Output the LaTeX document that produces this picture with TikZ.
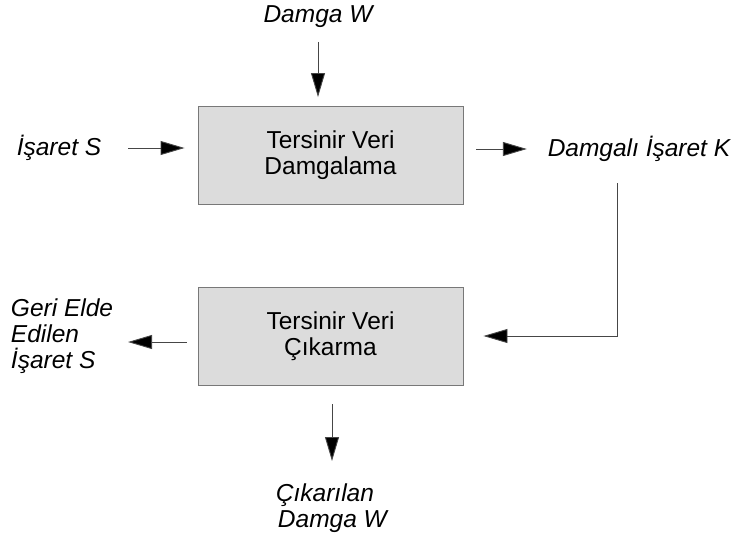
\documentclass[tikz,border=0pt]{standalone}
\usepackage{fontspec}
\setmainfont{Liberation Sans}
\usetikzlibrary{arrows.meta}
\tikzset{
  blok/.style={draw={rgb,255:red,120;green,120;blue,120},fill={rgb,255:red,220;green,220;blue,220},line width=0.9pt,minimum width=265pt,minimum height=98pt,align=center,font=\fontsize{24.5}{26}\selectfont},
  etiket/.style={align=left,inner sep=0.75pt,font=\fontsize{24.5}{26}\selectfont\itshape},
  ok/.style={draw={rgb,255:red,70;green,70;blue,70},line width=0.9pt,-{Triangle[length=24pt,width=14pt,fill=black]}}
}
\begin{document}
\begin{tikzpicture}[x=1pt,y=1pt,yscale=-1,xscale=1]
\useasboundingbox (0,0) rectangle (731,538);
% Boxes
\node[blok] (damgalama) at (330.5,155.5) {Tersinir Veri\\Damgalama};
\node[blok] (cikarma) at (330.5,336) {Tersinir Veri\\Çıkarma};
% Text Node
\node[etiket] (damgaW) at (318,17) {Damga W};
% Text Node
\node[etiket] (isaretS) at (59,148) {İşaret S};
% Text Node
\node[etiket] (damgaliK) at (639,149) {Damgalı İşaret K};
% Text Node
\node[etiket,anchor=west] (geri) at (10,336) {Geri Elde\\Edilen\\İşaret S};
% Text Node
\node[etiket,anchor=north west] (cikarilan) at (275,483) {Çıkarılan\\\hspace{2pt}Damga W};
% Arrows
\coordinate (k) at (617,183);
\coordinate (g) at (0,342);
\coordinate (c) at (332,0);
\draw[ok,shorten <=13pt,shorten >=9pt] (damgaW.south) -- (damgaW.south |- damgalama.north);
\draw[ok,shorten <=26pt,shorten >=13pt] (isaretS.east) -- (isaretS.east -| damgalama.west);
\draw[ok,shorten <=13pt,shorten >=20pt] (damgaliK.west -| damgalama.east) -- (damgaliK.west);
\draw[ok,shorten >=20pt] (k) -- (k |- cikarma.east) -- (cikarma.east);
\draw[ok,shorten <=11pt,shorten >=14pt] (cikarma.west |- g) -- (geri.east |- g);
\draw[ok,shorten <=19pt,shorten >=22pt] (cikarma.south -| c) -- (cikarilan.north -| c);
\end{tikzpicture}
\end{document}
